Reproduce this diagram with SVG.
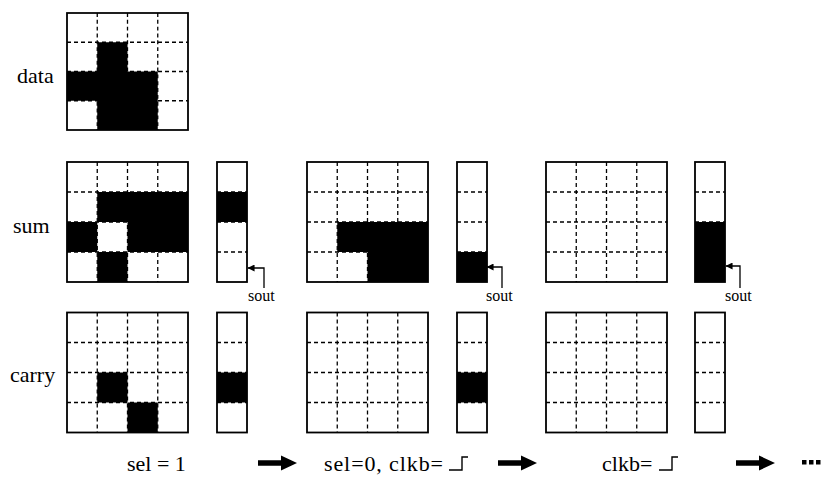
<svg xmlns="http://www.w3.org/2000/svg" xmlns:xlink="http://www.w3.org/1999/xlink" width="825" height="479" viewBox="0 0 825 479">
  <style>
    .bg { fill: #fff; }
    .frame { fill: none; stroke: #000; stroke-width: 1.8; }
    .dash { fill: none; stroke: #000; stroke-width: 1.3; stroke-dasharray: 4 3; }
    .on { fill: #000; }
    .lbl { font-family: "Liberation Serif", "Times New Roman", serif; font-size: 22px; fill: #000; }
    .tag { font-family: "Liberation Serif", "Times New Roman", serif; font-size: 16px; fill: #000; }
    .lead { fill: none; stroke: #000; stroke-width: 1.3; }
    .edge { fill: none; stroke: #000; stroke-width: 1.4; }
    .big { fill: #000; }
  </style>
  <defs>
    <!-- dashed inner lines of a 4x4 register array (121 x 120) -->
    <g id="grid4">
      <path class="dash" d="M30.25 0V120M60.5 0V120M90.75 0V120M0 30H121M0 60H121M0 90H121"/>
    </g>
    <!-- dashed inner lines of a 1x4 shift column (30 x 120) -->
    <g id="col4">
      <path class="dash" d="M0 30H30M0 60H30M0 90H30"/>
    </g>
    <marker id="tip" viewBox="0 0 8 8" refX="7.5" refY="4" markerWidth="7" markerHeight="7" orient="auto" markerUnits="userSpaceOnUse">
      <path d="M0 0L8 4L0 8Z" fill="#000"/>
    </marker>
    <!-- bold step arrow -->
    <path id="step" d="M0 -2.8H23V-7.5L39 0L23 7.5V2.8H0Z"/>
  </defs>

  <!-- row labels -->
  <g id="labels">
    <text class="lbl" x="17" y="83">data</text>
    <text class="lbl" x="13" y="233">sum</text>
    <text class="lbl" x="10" y="382">carry</text>
  </g>

  <!-- data array -->
  <g id="data" transform="translate(67,13) scale(1,0.975)">
    <rect class="bg" width="121" height="120"/>
    <use xlink:href="#grid4"/>
    <path class="on" d="M30.25 30H60.5V60H90.75V120H30.25V90H0V60H30.25Z"/>
    <rect class="frame" width="121" height="120"/>
  </g>

  <!-- sum row, step 1 -->
  <g id="sum1" transform="translate(67,162)">
    <rect class="bg" width="121" height="120"/>
    <use xlink:href="#grid4"/>
    <path class="on" d="M30.25 30H121V90H60.5V60H30.25Z"/>
    <rect class="on" x="0" y="60" width="30.25" height="30"/>
    <rect class="on" x="30.25" y="90" width="30.25" height="30"/>
    <rect class="frame" width="121" height="120"/>
  </g>
  <g id="sumcol1" transform="translate(217,162)">
    <rect class="bg" width="30" height="120"/>
    <use xlink:href="#col4"/>
    <rect class="on" y="30" width="30" height="30"/>
    <rect class="frame" width="30" height="120"/>
  </g>

  <!-- sum row, step 2 -->
  <g id="sum2" transform="translate(307,162)">
    <rect class="bg" width="121" height="120"/>
    <use xlink:href="#grid4"/>
    <path class="on" d="M30.25 60H121V120H60.5V90H30.25Z"/>
    <rect class="frame" width="121" height="120"/>
  </g>
  <g id="sumcol2" transform="translate(457,162)">
    <rect class="bg" width="30" height="120"/>
    <use xlink:href="#col4"/>
    <rect class="on" y="90" width="30" height="30"/>
    <rect class="frame" width="30" height="120"/>
  </g>

  <!-- sum row, step 3 -->
  <g id="sum3" transform="translate(546,162)">
    <rect class="bg" width="121" height="120"/>
    <use xlink:href="#grid4"/>
    <rect class="frame" width="121" height="120"/>
  </g>
  <g id="sumcol3" transform="translate(695,162)">
    <rect class="bg" width="30" height="120"/>
    <use xlink:href="#col4"/>
    <rect class="on" y="60" width="30" height="60"/>
    <rect class="frame" width="30" height="120"/>
  </g>

  <!-- carry row, step 1 -->
  <g id="carry1" transform="translate(67,312.5)">
    <rect class="bg" width="121" height="120"/>
    <use xlink:href="#grid4"/>
    <rect class="on" x="30.25" y="60" width="30.25" height="30"/>
    <rect class="on" x="60.5" y="90" width="30.25" height="30"/>
    <rect class="frame" width="121" height="120"/>
  </g>
  <g id="carrycol1" transform="translate(217,312.5)">
    <rect class="bg" width="30" height="120"/>
    <use xlink:href="#col4"/>
    <rect class="on" y="60" width="30" height="30"/>
    <rect class="frame" width="30" height="120"/>
  </g>

  <!-- carry row, step 2 -->
  <g id="carry2" transform="translate(307,312.5)">
    <rect class="bg" width="121" height="120"/>
    <use xlink:href="#grid4"/>
    <rect class="frame" width="121" height="120"/>
  </g>
  <g id="carrycol2" transform="translate(457,312.5)">
    <rect class="bg" width="30" height="120"/>
    <use xlink:href="#col4"/>
    <rect class="on" y="60" width="30" height="30"/>
    <rect class="frame" width="30" height="120"/>
  </g>

  <!-- carry row, step 3 -->
  <g id="carry3" transform="translate(546,312.5)">
    <rect class="bg" width="121" height="120"/>
    <use xlink:href="#grid4"/>
    <rect class="frame" width="121" height="120"/>
  </g>
  <g id="carrycol3" transform="translate(695,312.5)">
    <rect class="bg" width="30" height="120"/>
    <use xlink:href="#col4"/>
    <rect class="frame" width="30" height="120"/>
  </g>

  <!-- sout leads -->
  <g id="connectors">
    <path class="lead" d="M264 288V268H248" marker-end="url(#tip)"/>
    <path class="lead" d="M502 288V267H487" marker-end="url(#tip)"/>
    <path class="lead" d="M740 288V266H726" marker-end="url(#tip)"/>
  </g>
  <g id="sout-tags">
    <text class="tag" x="248" y="301">sout</text>
    <text class="tag" x="486" y="301">sout</text>
    <text class="tag" x="725" y="301">sout</text>
  </g>

  <!-- control sequence -->
  <g id="sequence">
    <text class="lbl" x="127" y="471">sel = 1</text>
    <use xlink:href="#step" class="big" x="258" y="463"/>
    <text class="lbl" x="324" y="471" textLength="119" lengthAdjust="spacing">sel=0, clkb=</text>
    <path class="edge" d="M449 470H462V457H468"/>
    <use xlink:href="#step" class="big" x="498" y="463"/>
    <text class="lbl" x="602" y="471">clkb=</text>
    <path class="edge" d="M659 470H672V457H678"/>
    <use xlink:href="#step" class="big" x="736" y="463"/>
    <g class="big">
      <rect x="802" y="460" width="4.5" height="4.5"/>
      <rect x="809" y="460" width="4.5" height="4.5"/>
      <rect x="816" y="460" width="4.5" height="4.5"/>
    </g>
  </g>
</svg>
